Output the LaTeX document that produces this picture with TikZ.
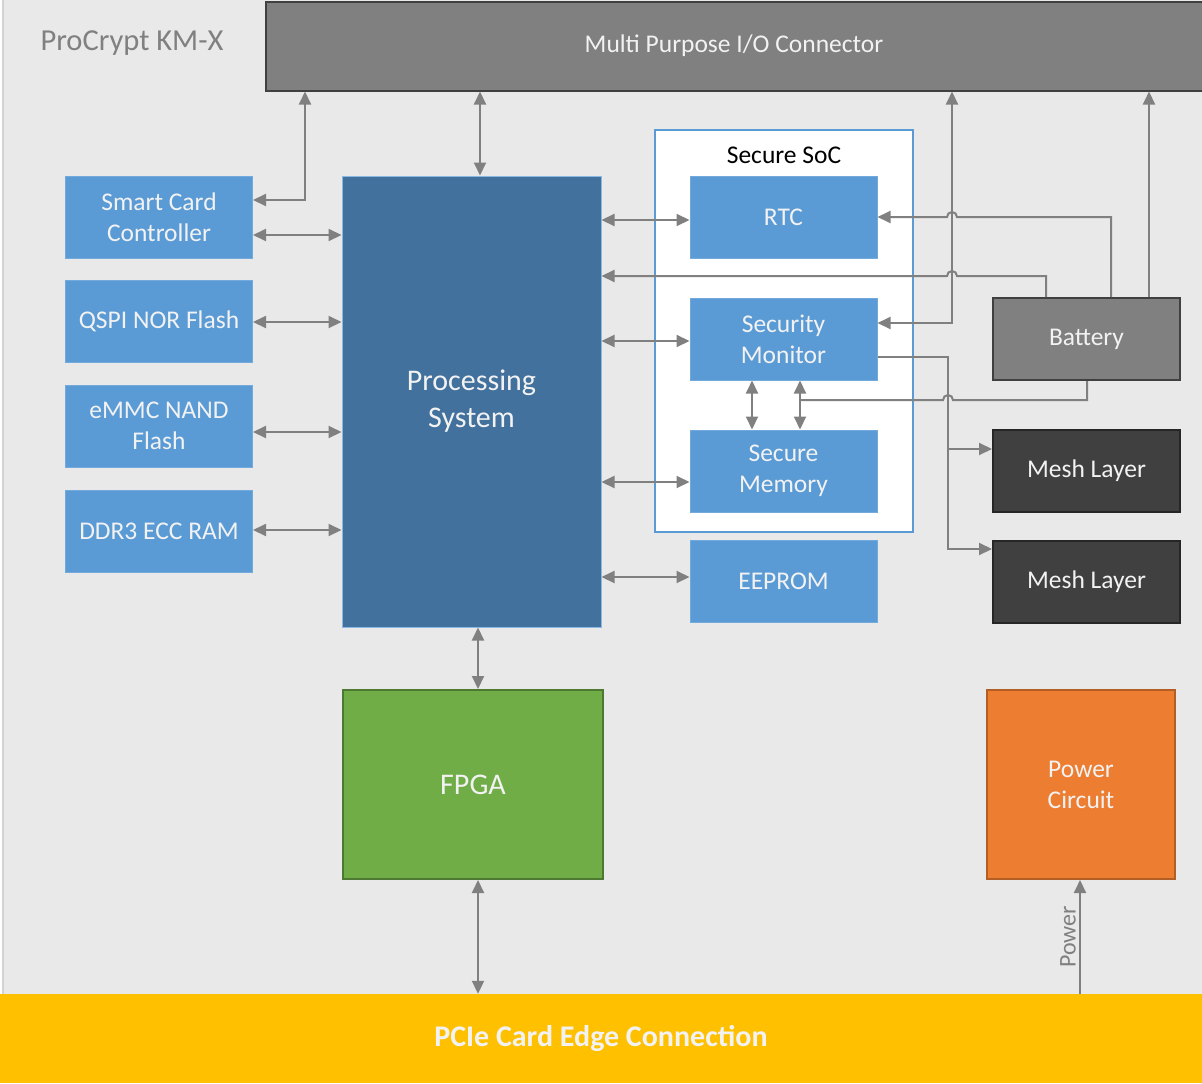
\documentclass[tikz,border=0pt]{standalone}
\usepackage{fontspec}
\setmainfont{Carlito}
\usepackage{tikz}
\usetikzlibrary{arrows.meta}
\definecolor{bggray}{HTML}{E9E9E9}
\definecolor{edgegray}{HTML}{D2D2D2}
\definecolor{linegray}{HTML}{808080}
\definecolor{darkgray}{HTML}{404040}
\definecolor{blockblue}{HTML}{5B9BD5}
\definecolor{psblue}{HTML}{41719C}
\definecolor{fpgagreen}{HTML}{70AD47}
\definecolor{pwrorange}{HTML}{ED7D31}
\definecolor{pcieyellow}{HTML}{FFC000}
\definecolor{lighttext}{HTML}{F2F2F2}

\begin{document}
\begin{tikzpicture}[x=1pt,y=-1pt,>={Triangle[length=13pt,width=12pt]},
  blk/.style={draw=blockblue!85!white,fill=blockblue,text=lighttext,line width=1pt,
    minimum width=187pt,minimum height=82pt,inner sep=0pt,align=center,
    font=\fontsize{25.5}{31}\selectfont},
  link/.style={draw=linegray,line width=2pt}]
\useasboundingbox (0,0) rectangle (1202,1084);
\fill[bggray] (3,0) rectangle (1202,994);
\draw[edgegray,line width=2pt] (3,0) -- (3,994);

\node[anchor=west,text=linegray,font=\fontsize{30.5}{36}\selectfont] (title) at (37,43) {ProCrypt KM-X};
\node[draw=darkgray,fill=linegray,line width=2pt,text=lighttext,minimum width=937pt,minimum height=89pt,
  font=\fontsize{25.5}{31}\selectfont] (io) at (734,46) {Multi Purpose I/O Connector};
\node[fill=pcieyellow,text=lighttext,minimum width=1202pt,minimum height=89pt,
  font=\fontsize{30}{36}\selectfont\bfseries] (pcie) at (601,1038.5) {PCIe Card Edge Connection};

\node[blk] (sc) at (159,217) {Smart Card\\Controller};
\node[blk] (qspi) at (159,321) {QSPI NOR Flash};
\node[blk] (emmc) at (159,426) {eMMC NAND\\Flash};
\node[blk] (ddr) at (159,531) {DDR3 ECC RAM};

\node[blk,fill=psblue,draw=blockblue!70!white,minimum width=259pt,minimum height=451pt,
  font=\fontsize{30}{37}\selectfont] (ps) at (471.5,401.5) {Processing\\System};

\node[draw=blockblue,fill=white,line width=1.5pt,minimum width=258pt,minimum height=402pt] (soc) at (784,331) {};
\node[font=\fontsize{25.5}{31}\selectfont] (soclabel) at (784,155) {Secure SoC};
\node[blk] (rtc) at (783.5,217) {RTC};
\node[blk] (secmon) at (783.5,339) {Security\\Monitor};
\node[blk] (secmem) at (783.5,471) {Secure\\Memory};
\node[blk] (eeprom) at (783.5,581.5) {EEPROM};

\node[blk,fill=linegray,draw=darkgray,line width=2pt] (bat) at (1086.5,339) {Battery};
\node[blk,fill=darkgray,draw=black!85,line width=2pt] (mesh1) at (1086.5,471) {Mesh Layer};
\node[blk,fill=darkgray,draw=black!85,line width=2pt] (mesh2) at (1086.5,581.5) {Mesh Layer};

\node[blk,fill=fpgagreen,draw=fpgagreen!70!black,line width=2pt,minimum width=260pt,minimum height=189pt,
  font=\fontsize{30}{37}\selectfont] (fpga) at (473,784.5) {FPGA};
\node[blk,fill=pwrorange,draw=pwrorange!75!black,line width=2pt,minimum width=188pt,minimum height=189pt] (pwr) at (1081,784.5) {Power\\Circuit};

\draw[link,<->] (sc.east |- 0,200) -| (io.south -| 305,0);
\draw[link,<->] (sc.east |- 0,235) -- (ps.west |- 0,235);
\draw[link,<->] (qspi.east |- 0,322) -- (ps.west |- 0,322);
\draw[link,<->] (emmc.east |- 0,432) -- (ps.west |- 0,432);
\draw[link,<->] (ddr.east |- 0,530) -- (ps.west |- 0,530);

\draw[link,<->] (ps.north -| 480,0) -- (io.south -| 480,0);
\draw[link,<->] (ps.south -| 478,0) -- (fpga.north -| 478,0);
\draw[link,<->] (fpga.south -| 478,0) -- (pcie.north -| 478,0);
\draw[link,->] (pcie.north -| 1080,0) -- node[sloped,above,text=linegray,font=\fontsize{24}{29}\selectfont] {Power} (pwr.south -| 1080,0);

\draw[link,<->] (ps.east |- 0,220) -- (rtc.west |- 0,220);
\draw[link,<->] (ps.east |- 0,341) -- (secmon.west |- 0,341);
\draw[link,<->] (ps.east |- 0,482) -- (secmem.west |- 0,482);
\draw[link,<->] (ps.east |- 0,577) -- (eeprom.west |- 0,577);
\draw[link,<->] (secmon.south -| 752,0) -- (secmem.north -| 752,0);
\draw[link,<->] (secmon.south -| 800,0) -- (secmem.north -| 800,0);

\draw[link,<->] (io.south -| 952,0) |- (secmon.east |- 0,323);
\draw[link,->] (bat.north -| 1111,0) |- (957,217) arc[start angle=0,end angle=180,radius=5pt] -- (rtc.east |- 0,217);
\draw[link,->] (bat.north -| 1046,0) |- (957,276) arc[start angle=0,end angle=180,radius=5pt] -- (ps.east |- 0,276);
\draw[link,->] (bat.north -| 1149,0) -- (io.south -| 1149,0);
\draw[link] (bat.south -| 1087,0) |- (953,400) arc[start angle=0,end angle=180,radius=5pt] -- (800,400);

\draw[link,->] (secmon.east |- 0,357) -| (948,549) -- (mesh2.west |- 0,549);
\draw[link,->] (948,449) -- (mesh1.west |- 0,449);
\end{tikzpicture}
\end{document}
